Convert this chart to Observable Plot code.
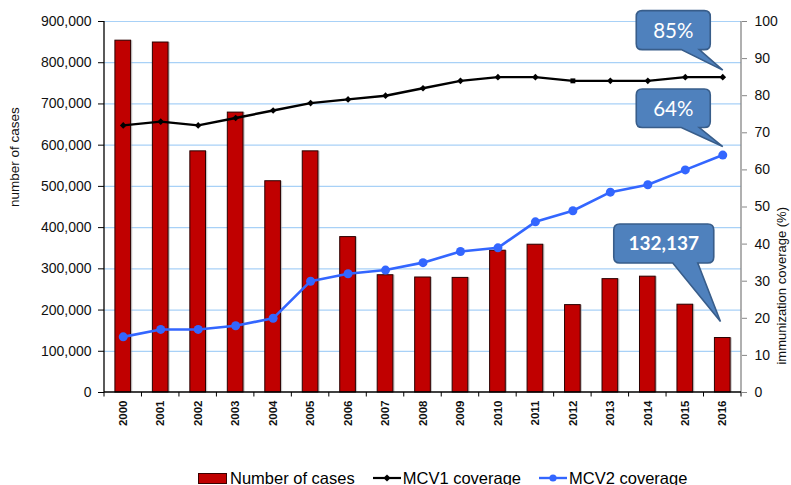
<!DOCTYPE html>
<html>
<head>
<meta charset="utf-8">
<script src="https://cdn.jsdelivr.net/npm/d3@7"></script>
<script src="https://cdn.jsdelivr.net/npm/@observablehq/plot@0.6"></script>
<style>
  body { margin: 0; background: #fff; font-family: "Liberation Sans", Arial, sans-serif; }
  #wrap { width: 791px; height: 485px; overflow: hidden; background: #fff; }
  #wrap svg { display: block; }
  .legend { display: flex; align-items: center; height: 28px; padding-left: 198px; font-size: 16.5px; color: #000; white-space: nowrap; }
  .legend .sw { width: 27px; height: 9px; background: #C00000; border: 1px solid #3a0000; margin-right: 3px; }
  .legend .ln { margin-right: 2px; }
  .legend .gap { margin-left: 18px; }
</style>
</head>
<body>
<div id="wrap"></div>
<script>
// ---------- data ----------
const years = [2000, 2001, 2002, 2003, 2004, 2005, 2006, 2007, 2008, 2009, 2010, 2011, 2012, 2013, 2014, 2015, 2016];
const cases = [853500, 849000, 585000, 679000, 512500, 585000, 377000, 284500, 279000, 278000, 344000, 358500, 212000, 275000, 281000, 213000, 132137];
const mcv1 = [72, 73, 72, 74, 76, 78, 79, 80, 82, 84, 85, 85, 84, 84, 84, 85, 85];
const mcv2 = [15, 17, 17, 18, 20, 30, 32, 33, 35, 38, 39, 46, 49, 54, 56, 60, 64];
const leftTicks = [0, 100000, 200000, 300000, 400000, 500000, 600000, 700000, 800000, 900000];
const rightTicks = [0, 10, 20, 30, 40, 50, 60, 70, 80, 90, 100];
const seriesNames = ["Number of cases", "MCV1 coverage", "MCV2 coverage"];
const axisTitles = ["number of cases", "immunization coverage (%)"];
const calloutText = ["85%", "64%", "132,137"];
const calloutSeries = ["mcv1", "mcv2", "cases"];
const calloutYear = [2016, 2016, 2016];

// ---------- derived ----------
const caseMax = 900000, covMax = 100;
const k = caseMax / covMax; // coverage -> case-axis units
const rows = years.map((year, i) => ({year, cases: cases[i], mcv1: mcv1[i], mcv2: mcv2[i]}));
const valueOf = (series, year) => {
  const r = rows.find(d => d.year === year);
  return series === "cases" ? r.cases : r[series] * k;
};

// callout geometry (pixels relative to the anchor point)
const calloutGeom = [
  {L: -86, R: -12, T: -66, B: -27, bl: -41, br: -23, tx: 0.5, ty: -6.5, font: 20.5, weight: 400},
  {L: -86, R: -12, T: -65.5, B: -27, bl: -41, br: -23, tx: 0.5, ty: -8, font: 20.5, weight: 400},
  {L: -108.5, R: -8.5, T: -113.5, B: -74.5, bl: -49.5, br: -24.5, tx: -1.8, ty: -16, font: 19, weight: 700}
];

function calloutPath(L, T, R, B, r, bl, br, tx, ty) {
  return `M${L + r},${T}H${R - r}Q${R},${T} ${R},${T + r}V${B - r}Q${R},${B} ${R - r},${B}` +
         `H${br}L${tx},${ty}L${bl},${B}H${L + r}Q${L},${B} ${L},${B - r}V${T + r}Q${L},${T} ${L + r},${T}Z`;
}

function bandwidthOf(sx) {
  return typeof sx.bandwidth === "function" ? sx.bandwidth() : (sx.bandwidth || 0);
}

// axis lines + band-boundary ticks
function frameMark(index, scales, values, dim) {
  const sx = scales.x, sy = scales.y;
  const bw = bandwidthOf(sx);
  const x0 = dim.marginLeft, x1 = dim.width - dim.marginRight;
  const y0 = sy(0), yt = sy(caseMax);
  const g = d3.create("svg:g");
  const edges = years.map(d => sx(d)).concat([sx(years[years.length - 1]) + bw]);
  g.selectAll("line.t").data(edges).join("line")
    .attr("x1", d => d).attr("x2", d => d).attr("y1", y0).attr("y2", y0 + 4.5)
    .attr("stroke", "#000").attr("stroke-width", 1);
  g.append("line").attr("x1", x1).attr("x2", x1).attr("y1", yt).attr("y2", y0)
    .attr("stroke", "#868686").attr("stroke-width", 1.3);
  g.append("line").attr("x1", x0).attr("x2", x0).attr("y1", yt).attr("y2", y0)
    .attr("stroke", "#000").attr("stroke-width", 1.3);
  g.append("line").attr("x1", x0).attr("x2", x1).attr("y1", y0).attr("y2", y0)
    .attr("stroke", "#000").attr("stroke-width", 1.3);
  return g.node();
}

// speech-bubble callouts
function calloutMark(index, scales) {
  const sx = scales.x, sy = scales.y;
  const bw = bandwidthOf(sx);
  const g = d3.create("svg:g");
  calloutText.forEach((txt, i) => {
    const c = calloutGeom[i];
    const ax = sx(calloutYear[i]) + bw / 2;
    const ay = sy(valueOf(calloutSeries[i], calloutYear[i]));
    g.append("path")
      .attr("d", calloutPath(ax + c.L, ay + c.T, ax + c.R, ay + c.B, 6, ax + c.bl, ax + c.br, ax + c.tx, ay + c.ty))
      .attr("fill", "#4F81BD").attr("stroke", "#385D8A").attr("stroke-width", 1.6);
    g.append("text")
      .attr("x", ax + (c.L + c.R) / 2).attr("y", ay + (c.T + c.B) / 2)
      .attr("text-anchor", "middle").attr("dy", "0.36em")
      .attr("fill", "#fff").attr("font-family", "Lato, 'Open Sans', sans-serif")
      .attr("font-size", c.font).attr("font-weight", c.weight)
      .text(txt);
  });
  return g.node();
}

const chart = Plot.plot({
  width: 791,
  height: 464,
  marginLeft: 104,
  marginRight: 50,
  marginTop: 21,
  marginBottom: 72,
  style: {fontFamily: "'Liberation Sans', Arial, sans-serif", background: "#fff", color: "#111", overflow: "visible"},
  x: {type: "band", domain: years, padding: 0, round: false, axis: null},
  y: {domain: [0, caseMax], axis: null},
  marks: [
    Plot.gridY({ticks: leftTicks.filter(d => d > 0), stroke: "#a8d1f7", strokeOpacity: 1, strokeWidth: 1.2}),
    Plot.barY(rows, {x: "year", y: "cases", fill: "#9a9a9a", fillOpacity: 0.55, insetLeft: 12.2, insetRight: 9.2}),
    Plot.barY(rows, {x: "year", y: "cases", fill: "#C00000", stroke: "#2a0000", strokeWidth: 1, insetLeft: 10.9, insetRight: 10.9}),
    Plot.line(rows, {x: "year", y: d => d.mcv1 * k, stroke: "#000", strokeWidth: 2.4}),
    Plot.dot(rows, {x: "year", y: d => d.mcv1 * k, symbol: d => d.year === 2012 ? "square" : "diamond2", r: d => d.year === 2012 ? 3.9 : 4.6, fill: "#000", stroke: "none"}),
    Plot.line(rows, {x: "year", y: d => d.mcv2 * k, stroke: "#3366FF", strokeWidth: 2.6}),
    Plot.dot(rows, {x: "year", y: d => d.mcv2 * k, r: 4.5, fill: "#3366FF", stroke: "none"}),
    frameMark,
    Plot.axisY({anchor: "left", ticks: leftTicks, tickFormat: d3.format(","), tickSize: 6, tickPadding: 7, fontSize: 14, label: null, stroke: "#000"}),
    Plot.axisY({anchor: "right", ticks: rightTicks.map(v => v * k), tickFormat: d => String(Math.round(d / k)), tickSize: 5, tickPadding: 8, fontSize: 14, label: null, stroke: "#868686"}),
    Plot.axisX({anchor: "bottom", tickSize: 0, tickPadding: 8, tickRotate: -90, fontSize: 11.5, fontWeight: "bold", tickFormat: d => String(d), label: null}),
    Plot.text([axisTitles[0]], {text: d => d, frameAnchor: "left", rotate: -90, dx: -90, fontSize: 13.5, fill: "#111"}),
    Plot.text([axisTitles[1]], {text: d => d, frameAnchor: "right", rotate: -90, dx: 40, fontSize: 13, fill: "#111"}),
    calloutMark
  ]
});

const wrap = document.getElementById("wrap");
wrap.appendChild(chart);

const legend = document.createElement("div");
legend.className = "legend";
legend.innerHTML = `
  <span class="sw"></span><span>${seriesNames[0]}</span>
  <svg class="ln gap" width="28" height="12"><line x1="0" y1="6" x2="28" y2="6" stroke="#000" stroke-width="2.2"/><path d="M14,2.4L17.6,6L14,9.6L10.4,6Z" fill="#000"/></svg><span>${seriesNames[1]}</span>
  <svg class="ln gap" width="28" height="12"><line x1="0" y1="6" x2="28" y2="6" stroke="#3366FF" stroke-width="2.4"/><circle cx="14" cy="6" r="3.6" fill="#3366FF"/></svg><span>${seriesNames[2]}</span>`;
wrap.appendChild(legend);
</script>
</body>
</html>
